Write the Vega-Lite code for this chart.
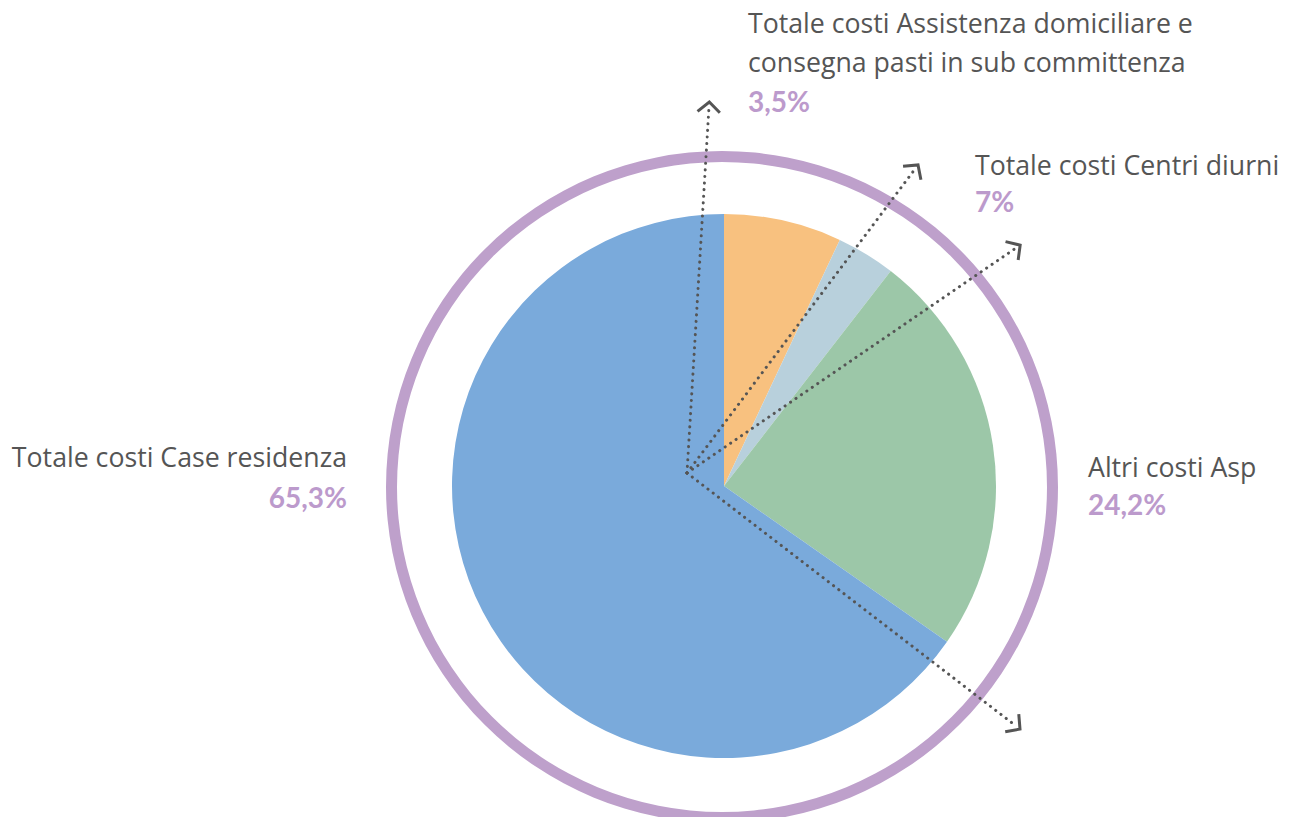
{
  "$schema": "https://vega.github.io/schema/vega-lite/v6.json",
  "width": 1289,
  "height": 817,
  "autosize": {"type": "none"},
  "padding": 0,
  "background": "white",
  "config": {"view": {"stroke": null}},
  "resolve": {"scale": {"theta": "independent", "color": "independent"}},
  "datasets": {
    "slices": [
      {"categoria": "Totale costi Centri diurni", "valore": 7, "ord": 1},
      {"categoria": "Totale costi Assistenza domiciliare e consegna pasti in sub committenza", "valore": 3.5, "ord": 2},
      {"categoria": "Altri costi Asp", "valore": 24.2, "ord": 3},
      {"categoria": "Totale costi Case residenza", "valore": 65.3, "ord": 4}
    ],
    "arrows": [
      {"id": 1, "p": 0, "x": -37, "y": 13, "ang": 3.6},
      {"id": 1, "p": 1, "x": -15, "y": 379, "ang": 3.6},
      {"id": 2, "p": 0, "x": -37, "y": 13, "ang": 36.9},
      {"id": 2, "p": 1, "x": 191, "y": 317, "ang": 36.9},
      {"id": 3, "p": 0, "x": -37, "y": 13, "ang": 55.6},
      {"id": 3, "p": 1, "x": 292, "y": 238, "ang": 55.6},
      {"id": 4, "p": 0, "x": -37, "y": 13, "ang": 127.3},
      {"id": 4, "p": 1, "x": 292, "y": -240, "ang": 127.3}
    ],
    "labels": [
      {"testo": "Totale costi Assistenza domiciliare e", "x": 24, "y": 453, "tipo": "t", "lato": "l"},
      {"testo": "consegna pasti in sub committenza", "x": 24, "y": 414, "tipo": "t", "lato": "l"},
      {"testo": "3,5%", "x": 24, "y": 374, "tipo": "p", "lato": "l"},
      {"testo": "Totale costi Centri diurni", "x": 251, "y": 311, "tipo": "t", "lato": "l"},
      {"testo": "7%", "x": 251, "y": 274, "tipo": "p", "lato": "l"},
      {"testo": "Altri costi Asp", "x": 364, "y": 9, "tipo": "t", "lato": "l"},
      {"testo": "24,2%", "x": 364, "y": -29, "tipo": "p", "lato": "l"},
      {"testo": "Totale costi Case residenza", "x": -377, "y": 19, "tipo": "t", "lato": "r"},
      {"testo": "65,3%", "x": -377, "y": -22, "tipo": "p", "lato": "r"}
    ]
  },
  "layer": [
    {
      "data": {"values": [{"v": 1}]},
      "mark": {"type": "arc", "outerRadius": 336, "innerRadius": 325, "fill": "#BEA0CB", "stroke": null},
      "encoding": {
        "theta": {"field": "v", "type": "quantitative"},
        "x": {"datum": -2, "type": "quantitative", "scale": {"domain": [-724, 565], "nice": false, "zero": false}, "axis": null},
        "y": {"datum": -1, "type": "quantitative", "scale": {"domain": [-331, 486], "nice": false, "zero": false}, "axis": null}
      }
    },
    {
      "data": {"name": "slices"},
      "mark": {"type": "arc", "outerRadius": 272, "stroke": null},
      "encoding": {
        "theta": {"field": "valore", "type": "quantitative", "stack": true, "scale": {"range": [0, 6.2832]}},
        "order": {"field": "ord", "type": "quantitative"},
        "color": {
          "field": "categoria",
          "type": "nominal",
          "scale": {
            "domain": ["Totale costi Centri diurni", "Totale costi Assistenza domiciliare e consegna pasti in sub committenza", "Altri costi Asp", "Totale costi Case residenza"],
            "range": ["#F8C17F", "#B8D0DC", "#9CC7A8", "#7AAADB"]
          },
          "legend": null
        },
        "x": {"datum": 0, "type": "quantitative"},
        "y": {"datum": 0, "type": "quantitative"}
      }
    },
    {
      "data": {"name": "arrows"},
      "mark": {"type": "line", "stroke": "#555555", "strokeWidth": 3, "strokeDash": [0.1, 6.5], "strokeCap": "round"},
      "encoding": {
        "x": {"field": "x", "type": "quantitative"},
        "y": {"field": "y", "type": "quantitative"},
        "detail": {"field": "id"},
        "order": {"field": "p"}
      }
    },
    {
      "data": {"name": "arrows"},
      "transform": [{"filter": "datum.p == 1"}],
      "mark": {"type": "point", "shape": "M-1,0.45L0,-0.45L1,0.45", "filled": false, "stroke": "#555555", "strokeWidth": 3, "size": 500, "opacity": 1},
      "encoding": {
        "x": {"field": "x", "type": "quantitative"},
        "y": {"field": "y", "type": "quantitative"},
        "angle": {"field": "ang", "type": "quantitative", "scale": {"domain": [0, 360], "range": [0, 360]}}
      }
    },
    {
      "data": {"name": "labels"},
      "transform": [{"filter": "datum.tipo == 't' && datum.lato == 'l'"}],
      "mark": {"type": "text", "align": "left", "baseline": "alphabetic", "font": "Open Sans", "fontSize": 26.7, "color": "#555555"},
      "encoding": {
        "x": {"field": "x", "type": "quantitative"},
        "y": {"field": "y", "type": "quantitative"},
        "text": {"field": "testo"}
      }
    },
    {
      "data": {"name": "labels"},
      "transform": [{"filter": "datum.tipo == 't' && datum.lato == 'r'"}],
      "mark": {"type": "text", "align": "right", "baseline": "alphabetic", "font": "Open Sans", "fontSize": 26.7, "color": "#555555"},
      "encoding": {
        "x": {"field": "x", "type": "quantitative"},
        "y": {"field": "y", "type": "quantitative"},
        "text": {"field": "testo"}
      }
    },
    {
      "data": {"name": "labels"},
      "transform": [{"filter": "datum.tipo == 'p' && datum.lato == 'l'"}],
      "mark": {"type": "text", "align": "left", "baseline": "alphabetic", "font": "Lato", "fontSize": 28, "fontWeight": "bold", "color": "#BC9ACC"},
      "encoding": {
        "x": {"field": "x", "type": "quantitative"},
        "y": {"field": "y", "type": "quantitative"},
        "text": {"field": "testo"}
      }
    },
    {
      "data": {"name": "labels"},
      "transform": [{"filter": "datum.tipo == 'p' && datum.lato == 'r'"}],
      "mark": {"type": "text", "align": "right", "baseline": "alphabetic", "font": "Lato", "fontSize": 28, "fontWeight": "bold", "color": "#BC9ACC"},
      "encoding": {
        "x": {"field": "x", "type": "quantitative"},
        "y": {"field": "y", "type": "quantitative"},
        "text": {"field": "testo"}
      }
    }
  ]
}
